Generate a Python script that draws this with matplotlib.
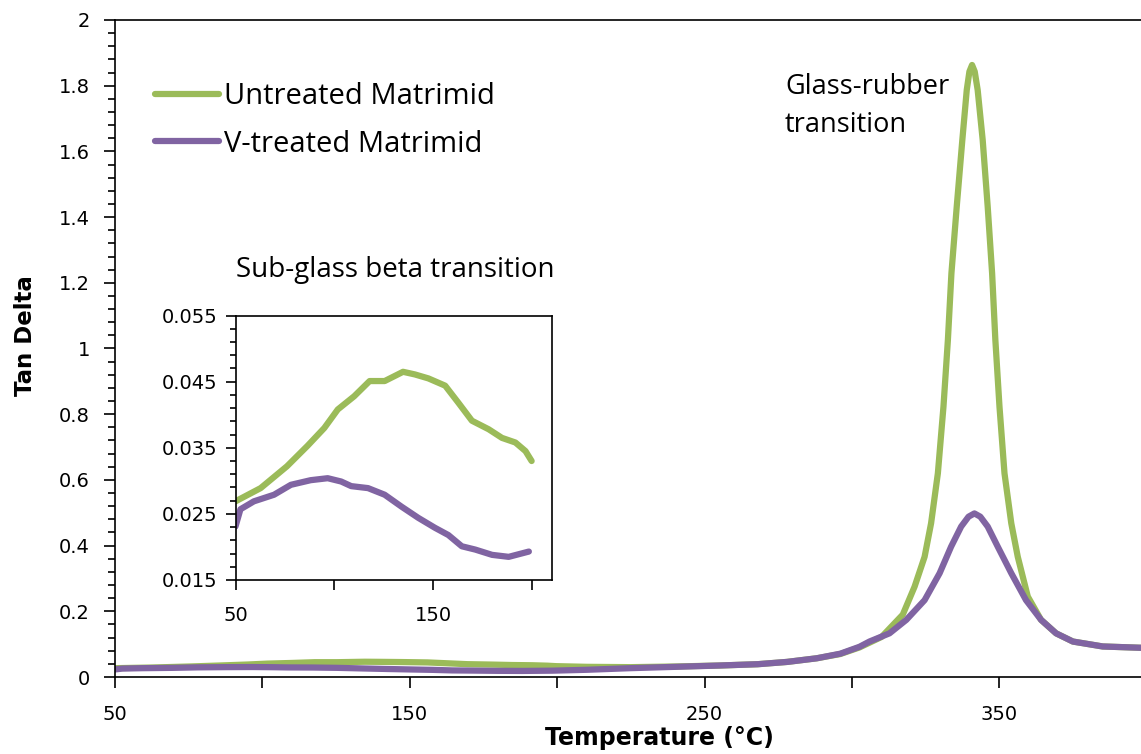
import matplotlib.pyplot as plt
import numpy as np
from matplotlib import font_manager
from matplotlib.ticker import FixedLocator, FuncFormatter

# Sub-glass region (inset)
inset_temp_green = [50, 62.7, 76, 86.4, 94.9, 101.7, 110, 117.8, 125.4, 134.7,
                    140.7, 147.5, 156, 162.7, 169.5, 178, 184.7, 191.5, 196.6, 199.7]
inset_green = [0.0269, 0.0289, 0.0322, 0.0353, 0.0380, 0.0408, 0.0428, 0.0451, 0.0451, 0.0465,
               0.0461, 0.0455, 0.0444, 0.0418, 0.0391, 0.0378, 0.0365, 0.0358, 0.0345, 0.0330]
inset_temp_violet = [50, 52.5, 59.3, 69.5, 78, 88, 96.6, 103.4, 108.5, 117,
                     125.4, 133.9, 142.4, 150.8, 157.6, 164.4, 171.2, 179.7, 188.1, 198.3]
inset_violet = [0.0231, 0.0257, 0.0269, 0.0279, 0.0294, 0.0301, 0.0304, 0.0299, 0.0292, 0.0289,
                0.0279, 0.0261, 0.0244, 0.0229, 0.0218, 0.0201, 0.0196, 0.0188, 0.0185, 0.0193]

# Glass-rubber region (main plot, above 200 C)
high_temp_green = [210, 225, 240, 255, 268, 278, 288, 296, 302.5, 310, 317.2, 321.2, 324.6,
                   326.8, 329.1, 331.0, 332.5, 333.7, 335.5, 337.4, 338.9, 339.8, 340.7, 341.6,
                   342.6, 344.3, 346.0, 347.5, 348.6, 350.0, 351.7, 354.0, 356.2, 359.6,
                   364.1, 369.2, 374.9, 385, 398]
high_green = [0.031, 0.030, 0.032, 0.035, 0.039, 0.046, 0.057, 0.070, 0.090, 0.122, 0.19, 0.275,
              0.366, 0.468, 0.62, 0.823, 1.026, 1.229, 1.432, 1.635, 1.787, 1.843, 1.863, 1.843,
              1.787, 1.635, 1.432, 1.229, 1.026, 0.823, 0.62, 0.468, 0.366, 0.245,
              0.174, 0.133, 0.108, 0.093, 0.089]
high_temp_violet = [210, 225, 240, 255, 268, 278, 288, 296, 302.5, 305.9, 312.7, 318.4, 324.6,
                    329.7, 333.6, 337.0, 339.5, 341.5, 343.5, 346.0, 349.4, 354.0, 359.0,
                    364.1, 369.2, 374.9, 385, 398]
high_violet = [0.022, 0.027, 0.031, 0.035, 0.039, 0.046, 0.057, 0.071, 0.092, 0.108, 0.133,
               0.174, 0.234, 0.316, 0.397, 0.458, 0.488, 0.498, 0.488, 0.458, 0.397, 0.316,
               0.234, 0.174, 0.133, 0.108, 0.093, 0.089]

green = "#9BBB59"
violet = "#8064A2"

names = {f.name for f in font_manager.fontManager.ttflist}
tick_font = "Liberation Sans Narrow" if "Liberation Sans Narrow" in names else "DejaVu Sans"
text_font = "Open Sans"

fig = plt.figure(figsize=(11.41, 7.54), dpi=100)
ax = fig.add_axes([0.1008, 0.1021, 0.8992, 0.8714])

main_temp_green = inset_temp_green + high_temp_green
main_green = inset_green + high_green
main_temp_violet = inset_temp_violet + high_temp_violet
main_violet = inset_violet + high_violet

ax.plot(main_temp_green, main_green, color=green, lw=4.5, label="Untreated Matrimid",
        solid_capstyle="round", solid_joinstyle="round")
ax.plot(main_temp_violet, main_violet, color=violet, lw=4.5, label="V-treated Matrimid",
        solid_capstyle="round", solid_joinstyle="round")

ax.set_xlim(50, 398)
ax.set_ylim(0, 2)
ax.spines["right"].set_visible(False)
for s in ax.spines.values():
    s.set_linewidth(1.2)

ax.xaxis.set_major_locator(FixedLocator([50, 150, 250, 350]))
ax.xaxis.set_minor_locator(FixedLocator([100, 200, 300]))
ax.yaxis.set_major_locator(FixedLocator(np.arange(0, 2.01, 0.2)))
ax.yaxis.set_minor_locator(FixedLocator(np.arange(0, 2.01, 0.04)))
ax.yaxis.set_major_formatter(FuncFormatter(lambda v, p: f"{v:g}"))
ax.tick_params(axis="x", which="both", direction="out", length=8, width=1.2, pad=12)
ax.tick_params(axis="y", which="major", direction="out", length=8, width=1.2, pad=10)
ax.tick_params(axis="y", which="minor", direction="out", length=5, width=1.2)
for lab in ax.get_xticklabels() + ax.get_yticklabels():
    lab.set_fontfamily(tick_font)
    lab.set_fontsize(14)

ax.set_xlabel("Temperature (°C)", fontsize=17, fontweight="bold", fontfamily="DejaVu Sans")
ax.xaxis.set_label_coords(0.531, -0.075)
ax.set_ylabel("Tan Delta", fontsize=16.5, fontweight="bold", fontfamily="DejaVu Sans")
ax.yaxis.set_label_coords(-0.076, 0.52)

leg = ax.legend(loc="upper left", bbox_to_anchor=(0.039, 0.906), frameon=False,
                borderaxespad=0, borderpad=0, handlelength=2.2, handletextpad=0.15,
                labelspacing=0.65, prop={"family": text_font, "size": 21})

ax.text(0.653, 0.869, "Glass-rubber\ntransition", transform=ax.transAxes,
        fontsize=19.5, fontfamily=text_font, ha="left", va="center", linespacing=1.5)
fig.text(0.2064, 0.642, "Sub-glass beta transition", fontsize=20, fontfamily=text_font,
         ha="left", va="center")

# inset
axi = fig.add_axes([0.2064, 0.2308, 0.2774, 0.3506])
axi.plot(inset_temp_green, inset_green, color=green, lw=4.5, solid_capstyle="round",
         solid_joinstyle="round")
axi.plot(inset_temp_violet, inset_violet, color=violet, lw=4.5, solid_capstyle="round",
         solid_joinstyle="round")
axi.set_xlim(50, 210)
axi.set_ylim(0.015, 0.055)
for s in axi.spines.values():
    s.set_linewidth(1.2)
axi.xaxis.set_major_locator(FixedLocator([50, 150]))
axi.xaxis.set_minor_locator(FixedLocator([100, 200]))
axi.yaxis.set_major_locator(FixedLocator([0.015, 0.025, 0.035, 0.045, 0.055]))
axi.yaxis.set_minor_locator(FixedLocator(np.arange(0.015, 0.0551, 0.002)))
axi.yaxis.set_major_formatter(FuncFormatter(lambda v, p: f"{v:.3f}"))
axi.tick_params(axis="x", which="both", direction="out", length=7, width=1.2, pad=12)
axi.tick_params(axis="y", which="major", direction="out", length=7, width=1.2, pad=6)
axi.tick_params(axis="y", which="minor", direction="out", length=4, width=1.2)
for lab in axi.get_xticklabels() + axi.get_yticklabels():
    lab.set_fontfamily(tick_font)
    lab.set_fontsize(14)

fig.savefig("out.png", dpi=100)
